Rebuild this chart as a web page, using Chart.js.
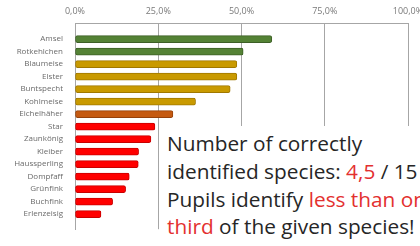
<!DOCTYPE html>
<html>
<head>
<meta charset="utf-8">
<script src="https://cdn.jsdelivr.net/npm/chart.js@4/dist/chart.umd.min.js"></script>
<style>
  html, body { margin: 0; padding: 0; background: #fff; overflow: hidden; }
  #wrap { position: relative; width: 440px; height: 246px; }
  #note {
    position: absolute; left: 161px; top: 126px; width: 300px; height: 116px;
    background: #fff; font-family: "Open Sans", sans-serif; font-size: 20.8px;
    line-height: 27.8px; color: #262626; padding: 4px 0 0 6px; white-space: nowrap;
  }
  #note .hl { color: #e3302f; }
</style>
</head>
<body>
<div id="wrap">
  <canvas id="bar-chart" width="440" height="246"></canvas>
  <div id="note">Number of correctly<br>identified species: <span class="hl">4,5</span> / 15<br>Pupils identify <span class="hl">less than one</span><br><span class="hl">third</span> of the given species!</div>
</div>
<script>
const species = ['Amsel', 'Rotkehlchen', 'Blaumeise', 'Elster', 'Buntspecht', 'Kohlmeise', 'Eichelhäher',
  'Star', 'Zaunkönig', 'Kleiber', 'Haussperling', 'Dompfaff', 'Grünfink', 'Buchfink', 'Erlenzeisig'];
const correctShare = [59.1, 50.5, 48.6, 48.6, 46.6, 36.2, 29.4, 24.0, 22.8, 19.1, 19.0, 16.3, 15.2, 11.3, 7.8];
const tickValues = [0, 25, 50, 75, 100];

// Farben nach Gruppe
const green = 'rgb(84, 130, 53)', gold = 'rgb(201, 154, 0)', orange = 'rgb(197, 90, 17)', red = 'rgb(255, 0, 0)';
const barColors = [green, green, gold, gold, gold, gold, orange, red, red, red, red, red, red, red, red];
const edgeColors = barColors.map(c => c === red ? 'rgb(200, 0, 0)' : c === green ? 'rgb(60, 95, 38)' : c === gold ? 'rgb(160, 120, 0)' : 'rgb(150, 65, 10)');

function createBarChart() {
  const ctx = document.getElementById('bar-chart').getContext('2d');
  new Chart(ctx, {
    type: 'bar',
    data: {
      datasets: [{
        data: species.map((name, i) => ({ y: i, x: correctShare[i] })),
        backgroundColor: barColors,
        borderColor: edgeColors,
        borderWidth: 1,
        borderRadius: 2,
        borderSkipped: false,
        barThickness: 7,
      }],
    },
    options: {
      indexAxis: 'y',
      responsive: false,
      animation: false,
      layout: { padding: { top: 0, right: 32, bottom: 14, left: 0 } },
      plugins: { legend: { display: false }, tooltip: { enabled: false } },
      scales: {
        x: {
          type: 'linear',
          position: 'top',
          min: 0,
          max: 100,
          afterBuildTicks: (scale) => { scale.ticks = tickValues.map(v => ({ value: v })); },
          afterFit: (scale) => { scale.height = 23; },
          ticks: {
            padding: 6,
            color: '#7a7a7a',
            font: { family: 'Open Sans', size: 9 },
            callback: (v) => v.toFixed(1).replace('.', ',') + '%',
          },
          grid: { color: '#a6a6a6', drawTicks: false, lineWidth: 1 },
          border: { display: true, color: '#a6a6a6' },
        },
        y: {
          type: 'linear',
          reverse: true,
          min: -0.74,
          max: 14.66,
          afterBuildTicks: (scale) => { scale.ticks = species.map((s, i) => ({ value: i })); },
          afterFit: (scale) => { scale.width = 75; },
          ticks: {
            padding: 12,
            color: '#6b6b6b',
            font: { family: 'Open Sans', size: 8 },
            autoSkip: false,
            callback: (v) => species[v],
          },
          grid: { display: false, drawTicks: false },
          border: { display: true, color: '#a6a6a6' },
        },
      },
    },
  });
}

document.addEventListener('DOMContentLoaded', () => {
  createBarChart();
});
</script>
</body>
</html>
